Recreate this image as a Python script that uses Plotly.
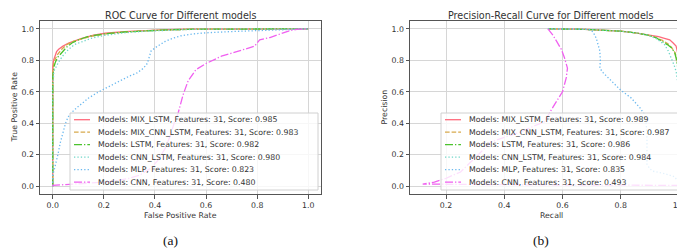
import plotly.graph_objects as go

W, H = 685, 249

# ---------------- data ----------------
model_names = ["MIX_LSTM", "MIX_CNN_LSTM", "LSTM", "CNN_LSTM", "MLP", "CNN"]
n_features = [31, 31, 31, 31, 31, 31]
roc_scores = [0.985, 0.983, 0.982, 0.980, 0.823, 0.480]
pr_scores = [0.989, 0.987, 0.986, 0.984, 0.835, 0.493]

roc_fpr_mix_lstm = [0, 0, 0.003, 0.008, 0.015, 0.023, 0.04, 0.062, 0.085, 0.114, 0.16, 0.205, 0.28, 0.36, 0.45, 0.55, 0.7, 1.0]
roc_tpr_mix_lstm = [0, 0.76, 0.8, 0.83, 0.855, 0.87, 0.89, 0.91, 0.925, 0.94, 0.96, 0.972, 0.982, 0.99, 0.995, 0.998, 1.0, 1.0]
roc_fpr_mix_cnn_lstm = [0, 0, 0.004, 0.01, 0.02, 0.035, 0.055, 0.08, 0.11, 0.15, 0.2, 0.28, 0.36, 0.45, 0.55, 0.7, 1.0]
roc_tpr_mix_cnn_lstm = [0, 0.72, 0.78, 0.81, 0.84, 0.87, 0.9, 0.92, 0.935, 0.952, 0.966, 0.98, 0.988, 0.994, 0.998, 1.0, 1.0]
roc_fpr_lstm = [0, 0, 0.005, 0.0105, 0.02, 0.036, 0.055, 0.075, 0.1, 0.14, 0.2, 0.28, 0.36, 0.45, 0.55, 0.7, 1.0]
roc_tpr_lstm = [0, 0.7, 0.76, 0.79, 0.82, 0.85, 0.885, 0.91, 0.93, 0.953, 0.968, 0.98, 0.988, 0.994, 0.998, 1.0, 1.0]
roc_fpr_cnn_lstm = [0, 0, 0.004, 0.012, 0.023, 0.04, 0.062, 0.085, 0.114, 0.15, 0.2, 0.28, 0.36, 0.45, 0.55, 0.7, 1.0]
roc_tpr_cnn_lstm = [0, 0.62, 0.73, 0.76, 0.79, 0.83, 0.87, 0.9, 0.92, 0.94, 0.958, 0.975, 0.985, 0.992, 0.997, 1.0, 1.0]
roc_fpr_mlp = [0, 0, 0.005, 0.012, 0.02, 0.03, 0.04, 0.05, 0.06, 0.075, 0.095, 0.115, 0.14, 0.18, 0.22, 0.26, 0.3, 0.33,
               0.355, 0.37, 0.385, 0.41, 0.44, 0.47, 0.5, 0.55, 0.6, 0.7, 0.8, 0.9, 1.0]
roc_tpr_mlp = [0, 0.07, 0.1, 0.14, 0.2, 0.28, 0.35, 0.4, 0.44, 0.47, 0.5, 0.525, 0.56, 0.6, 0.635, 0.67, 0.70, 0.72,
               0.75, 0.78, 0.86, 0.89, 0.92, 0.94, 0.955, 0.968, 0.975, 0.983, 0.99, 0.996, 1.0]
roc_fpr_cnn = [0, 0, 0.05, 0.1, 0.15, 0.2, 0.25, 0.3, 0.34, 0.38, 0.41, 0.44, 0.46, 0.475, 0.49, 0.51, 0.53, 0.56, 0.6,
               0.66, 0.72, 0.76, 0.79, 0.81, 0.85, 0.88, 0.93, 0.96, 1.0]
roc_tpr_cnn = [0, 0.005, 0.01, 0.015, 0.02, 0.025, 0.035, 0.05, 0.07, 0.11, 0.16, 0.24, 0.32, 0.4, 0.46, 0.58, 0.67, 0.74,
               0.78, 0.826, 0.855, 0.875, 0.89, 0.93, 0.945, 0.962, 0.99, 0.998, 1.0]

pr_rec_mix_lstm = [0.55, 0.6, 0.65, 0.7, 0.75, 0.8, 0.85, 0.9, 0.93, 0.95, 0.968, 0.98, 0.99, 0.995, 0.998, 1.0, 1.0]
pr_prec_mix_lstm = [1.0, 1.0, 0.998, 0.995, 0.99, 0.985, 0.975, 0.96, 0.95, 0.94, 0.93, 0.91, 0.89, 0.85, 0.79, 0.73, 0.3]
pr_rec_mix_cnn_lstm = [0.55, 0.6, 0.65, 0.7, 0.75, 0.8, 0.85, 0.893, 0.92, 0.945, 0.962, 0.975, 0.986, 0.992, 0.996, 0.999, 1.0]
pr_prec_mix_cnn_lstm = [1.0, 1.0, 0.998, 0.995, 0.99, 0.985, 0.975, 0.96, 0.945, 0.925, 0.905, 0.88, 0.85, 0.815, 0.77, 0.73, 0.3]
pr_rec_lstm = [0.55, 0.6, 0.65, 0.7, 0.75, 0.8, 0.85, 0.893, 0.92, 0.945, 0.96, 0.974, 0.985, 0.99, 0.995, 0.998, 1.0]
pr_prec_lstm = [1.0, 1.0, 0.998, 0.995, 0.99, 0.985, 0.975, 0.96, 0.945, 0.92, 0.9, 0.88, 0.85, 0.815, 0.77, 0.73, 0.3]
pr_rec_cnn_lstm = [0.55, 0.6, 0.65, 0.7, 0.75, 0.8, 0.85, 0.893, 0.92, 0.95, 0.963, 0.974, 0.983, 0.99, 0.995, 0.998, 1.0]
pr_prec_cnn_lstm = [1.0, 1.0, 0.998, 0.995, 0.99, 0.985, 0.975, 0.96, 0.94, 0.9, 0.86, 0.815, 0.77, 0.73, 0.67, 0.6, 0.3]
pr_rec_mlp = [0.55, 0.6, 0.65, 0.693, 0.705, 0.716, 0.728, 0.73, 0.728, 0.74, 0.756, 0.78, 0.8, 0.836, 0.865, 0.88,
              0.887, 0.89, 0.89, 0.89, 0.9, 0.91, 0.95, 0.985, 0.996, 1.0]
pr_prec_mlp = [1.0, 1.0, 1.0, 0.995, 0.98, 0.94, 0.86, 0.8, 0.75, 0.72, 0.69, 0.65, 0.61, 0.56, 0.5, 0.46,
               0.4, 0.33, 0.2, 0.14, 0.11, 0.095, 0.08, 0.06, 0.03, 0.01]
pr_rec_cnn = [0.55, 0.567, 0.58, 0.596, 0.607, 0.617, 0.613, 0.60, 0.573, 0.538, 0.5, 0.45, 0.4, 0.354, 0.3, 0.25,
              0.2, 0.16, 0.12, 0.3, 0.6, 1.0]
pr_prec_cnn = [1.0, 0.96, 0.92, 0.87, 0.815, 0.75, 0.69, 0.60, 0.52, 0.41, 0.38, 0.34, 0.31, 0.28, 0.18, 0.09,
               0.05, 0.025, 0.013, 0.01, 0.007, 0.005]

roc_x_ticks = [0.0, 0.2, 0.4, 0.6, 0.8, 1.0]
pr_x_ticks = [0.2, 0.4, 0.6, 0.8, 1.0]
y_ticks = [0.0, 0.2, 0.4, 0.6, 0.8, 1.0]

# ---------------- styles ----------------
colors = ["#ff6b7d", "#d8a94c", "#4cc32e", "#6fd6c8", "#6cb9ef", "#f060f0"]
dashes = ["solid", "4.6px,2px", "8px,2px,1.3px,2px", "1.3px,2.1px", "1.3px,2.1px", "8px,2px,1.3px,2px"]
LW = 1.3
FONT = "DejaVu Sans"
TXT = "#333333"
SPINE = "#555555"
GRID = "#d6d6d6"
SMALL = 7.8

roc_data = [(roc_fpr_mix_lstm, roc_tpr_mix_lstm), (roc_fpr_mix_cnn_lstm, roc_tpr_mix_cnn_lstm),
            (roc_fpr_lstm, roc_tpr_lstm), (roc_fpr_cnn_lstm, roc_tpr_cnn_lstm),
            (roc_fpr_mlp, roc_tpr_mlp), (roc_fpr_cnn, roc_tpr_cnn)]
pr_data = [(pr_rec_mix_lstm, pr_prec_mix_lstm), (pr_rec_mix_cnn_lstm, pr_prec_mix_cnn_lstm),
           (pr_rec_lstm, pr_prec_lstm), (pr_rec_cnn_lstm, pr_prec_cnn_lstm),
           (pr_rec_mlp, pr_prec_mlp), (pr_rec_cnn, pr_prec_cnn)]

fig = go.Figure()
for i, (x, y) in enumerate(roc_data):
    fig.add_trace(go.Scatter(x=x, y=y, mode="lines", xaxis="x", yaxis="y", showlegend=False,
                             line=dict(color=colors[i], width=LW, dash=dashes[i])))
for i, (x, y) in enumerate(pr_data):
    fig.add_trace(go.Scatter(x=x, y=y, mode="lines", xaxis="x2", yaxis="y2", showlegend=False,
                             line=dict(color=colors[i], width=LW, dash=dashes[i])))


def px(x):
    return x / W


def py(y):
    return 1 - y / H


ax_common = dict(showline=True, mirror=True, linecolor=SPINE, linewidth=1, showgrid=True, gridcolor=GRID,
                 gridwidth=1, zeroline=False, ticks="outside", ticklen=3.5, tickcolor=SPINE, tickwidth=1,
                 tickfont=dict(family=FONT, size=SMALL, color=TXT), tickformat=".1f")

fig.update_layout(
    width=W, height=H, autosize=False, margin=dict(l=0, r=0, t=0, b=0),
    paper_bgcolor="white", plot_bgcolor="white",
    xaxis=dict(domain=[px(32), px(313)], range=[-0.05, 1.05], tickvals=roc_x_ticks, anchor="y", **ax_common),
    yaxis=dict(domain=[py(186), py(13)], range=[-0.05, 1.05], tickvals=y_ticks, anchor="x", **ax_common),
    xaxis2=dict(domain=[px(402), px(684)], range=[0.0764, 1.0446], tickvals=pr_x_ticks, anchor="y2", **ax_common),
    yaxis2=dict(domain=[py(186), py(13)], range=[-0.05, 1.05], tickvals=y_ticks, anchor="x2", **ax_common),
)

shapes = []
annotations = []


def text(x, y, s, size=SMALL, xanchor="center", yanchor="middle", angle=0, family=FONT, color=TXT):
    annotations.append(dict(x=px(x), y=py(y), xref="paper", yref="paper", text=s, showarrow=False,
                            xanchor=xanchor, yanchor=yanchor, textangle=angle, borderpad=0,
                            font=dict(family=family, size=size, color=color)))


# titles and axis labels
text(172.5, 7, "ROC Curve for Different models", size=9.6)
text(543, 7, "Precision-Recall Curve for Different models", size=9.6)
text(172.5, 207, "False Positive Rate")
text(543, 207, "Recall")
text(6, 99.5, "True Positive Rate", angle=-90)
text(376, 99.5, "Precision", angle=-90)
text(162.5, 232, "(a)", size=13.5, family="Liberation Serif", color="#111111")
text(533, 232, "(b)", size=13.5, family="Liberation Serif", color="#111111")


def legend(box_l, box_r, box_t, box_b, scores):
    shapes.append(dict(type="rect", xref="paper", yref="paper", x0=px(box_l), x1=px(box_r),
                       y0=py(box_b), y1=py(box_t), fillcolor="rgba(255,255,255,0.8)",
                       line=dict(color="#d0d0d0", width=1), layer="above"))
    rows = [111.7, 124.2, 136.7, 149.2, 161.7, 174.2]
    for i, (name, nf, sc) in enumerate(zip(model_names, n_features, scores)):
        shapes.append(dict(type="line", xref="paper", yref="paper", x0=px(box_l + 4), x1=px(box_l + 20),
                           y0=py(rows[i]), y1=py(rows[i]), layer="above",
                           line=dict(color=colors[i], width=LW, dash=dashes[i])))
        text(box_l + 27, rows[i], f"Models: {name}, Features: {nf}, Score: {sc:.3f}", xanchor="left")


legend(62, 310, 105, 182, roc_scores)
legend(433, 680, 105, 182, pr_scores)

fig.update_layout(shapes=shapes, annotations=annotations)
fig.write_html("out.html")
